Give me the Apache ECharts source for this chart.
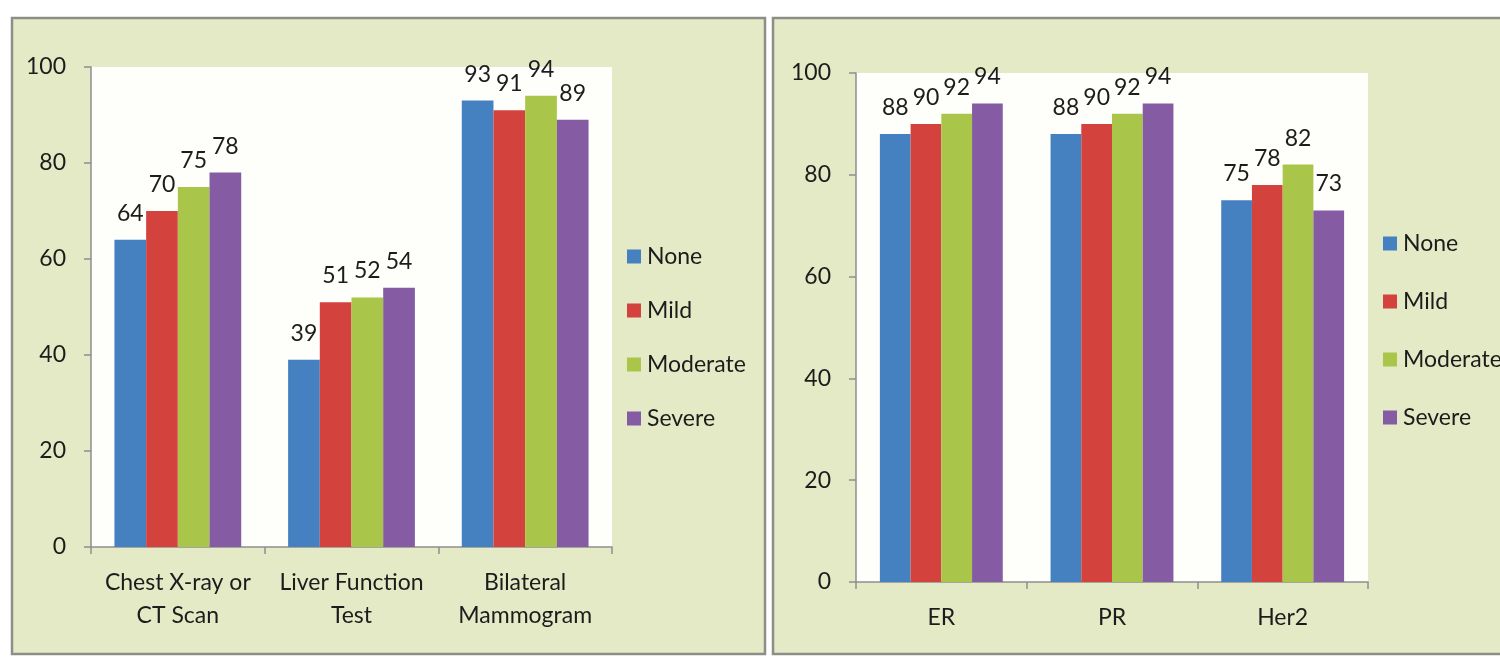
<!DOCTYPE html>
<html>
<head>
<meta charset="utf-8">
<script src="https://cdn.jsdelivr.net/npm/echarts@6/dist/echarts.min.js"></script>
<style>
  html, body { margin: 0; padding: 0; background: #ffffff; overflow: hidden; }
  #chart { width: 1500px; height: 658px; }
</style>
</head>
<body>
<div id="chart"></div>
<script>
// Test categories for each panel
const testCategories = ['Chest X-ray or\nCT Scan', 'Liver Function\nTest', 'Bilateral\nMammogram'];
const markerCategories = ['ER', 'PR', 'Her2'];

// Severity groups
const severityNames = ['None', 'Mild', 'Moderate', 'Severe'];
const severityColors = ['#4580c0', '#d3423d', '#a9c64a', '#855ca3'];

// Percentages per severity group: imaging / lab tests
const testNone = [64, 39, 93];
const testMild = [70, 51, 91];
const testModerate = [75, 52, 94];
const testSevere = [78, 54, 89];

// Percentages per severity group: receptor markers
const markerNone = [88, 88, 75];
const markerMild = [90, 90, 78];
const markerModerate = [92, 92, 82];
const markerSevere = [94, 94, 73];

const yTicks = [0, 20, 40, 60, 80, 100];

const FONT = 'Lato';
const FS = 23;
const TEXT = '#1c1c1c';
const AXIS = '#8e8e8e';

function makeSeries(values, axisIndex) {
  return values.map((vals, i) => ({
    name: severityNames[i],
    type: 'bar',
    xAxisIndex: axisIndex,
    yAxisIndex: axisIndex,
    data: vals,
    barGap: '0%',
    barCategoryGap: axisIndex === 0 ? '27%' : '28%',
    itemStyle: { color: severityColors[i] },
    label: {
      show: true,
      position: 'top',
      distance: 15,
      fontFamily: FONT,
      fontSize: FS,
      color: TEXT
    },
    emphasis: { disabled: true }
  }));
}

function xAxis(cats, gridIndex) {
  return {
    type: 'category',
    gridIndex,
    data: cats,
    axisLine: { show: true, lineStyle: { color: AXIS, width: 1.5 } },
    axisTick: { show: true, length: 7, alignWithLabel: false, lineStyle: { color: AXIS, width: 1.5 } },
    axisLabel: {
      fontFamily: FONT, fontSize: FS, color: TEXT,
      lineHeight: 33, margin: 19, interval: 0
    },
    splitLine: { show: false }
  };
}

function yAxis(gridIndex) {
  return {
    type: 'value',
    gridIndex,
    min: yTicks[0],
    max: yTicks[yTicks.length - 1],
    interval: yTicks[1] - yTicks[0],
    axisLine: { show: true, lineStyle: { color: AXIS, width: 1.5 } },
    axisTick: { show: true, length: 7, inside: false, lineStyle: { color: AXIS, width: 1.5 } },
    axisLabel: { fontFamily: FONT, fontSize: FS, color: TEXT, margin: 25 },
    splitLine: { show: false }
  };
}

function legend(left, top, gap) {
  return {
    orient: 'vertical',
    left, top,
    padding: 0,
    itemWidth: 14,
    itemHeight: 14,
    itemGap: gap,
    icon: 'rect',
    selectedMode: false,
    data: severityNames,
    textStyle: { fontFamily: FONT, fontSize: FS, color: TEXT, padding: [0, 0, 0, 1] }
  };
}

const chart = echarts.init(document.getElementById('chart'), null, { renderer: 'canvas' });

chart.setOption({
  animation: false,
  backgroundColor: '#ffffff',
  graphic: [
    {
      type: 'rect', z: -10, silent: true,
      shape: { x: 12, y: 18, width: 753, height: 636 },
      style: { fill: '#e4eac6', stroke: '#8e8e86', lineWidth: 2.5 }
    },
    {
      type: 'rect', z: -10, silent: true,
      shape: { x: 773, y: 18, width: 760, height: 636 },
      style: { fill: '#e4eac6', stroke: '#8e8e86', lineWidth: 2.5 }
    }
  ],
  grid: [
    { left: 91, top: 67, width: 521, height: 480, show: true, backgroundColor: '#fefefa', borderWidth: 0 },
    { left: 856, top: 73, width: 512, height: 509, show: true, backgroundColor: '#fefefa', borderWidth: 0 }
  ],
  legend: [
    legend(627, 245, 31),
    legend(1383, 232, 35)
  ],
  xAxis: [xAxis(testCategories, 0), xAxis(markerCategories, 1)],
  yAxis: [yAxis(0), yAxis(1)],
  series: [
    ...makeSeries([testNone, testMild, testModerate, testSevere], 0),
    ...makeSeries([markerNone, markerMild, markerModerate, markerSevere], 1)
  ]
});
</script>
</body>
</html>
